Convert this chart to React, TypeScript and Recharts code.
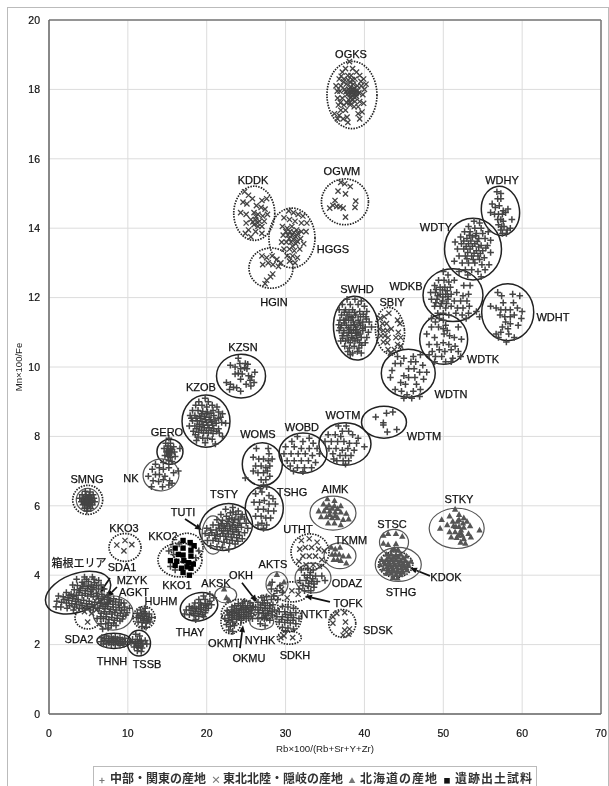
import React from 'react';
import {
  ScatterChart,
  Scatter,
  XAxis,
  YAxis,
  CartesianGrid,
  ReferenceLine,
  Legend,
} from 'recharts';

type Pt = number[];

const xTicks = [0, 10, 20, 30, 40, 50, 60, 70];
const yTicks = [0, 2, 4, 6, 8, 10, 12, 14, 16, 18, 20];

// 東北北陸・隠岐
const OGKS: Pt[] = [[38.1,18.8],[37.6,18.6],[38.5,18.6],[39.0,18.5],[37.2,18.5],[36.8,18.3],[37.4,18.3],[37.9,18.4],[38.3,18.4],[38.8,18.3],[39.4,18.4],[39.9,18.3],[40.2,18.15],[36.4,18.1],[37.0,18.1],[37.7,18.15],[38.2,18.2],[38.6,18.15],[39.1,18.1],[39.6,18.1],[40.0,18.0],[36.9,17.95],[37.5,18.0],[38.0,18.0],[38.4,18.0],[38.9,17.95],[39.3,17.9],[39.8,17.85],[37.8,17.85],[38.2,17.85],[38.6,17.85],[39.0,17.8],[36.6,17.75],[37.2,17.75],[38.0,17.7],[38.4,17.7],[38.8,17.65],[39.4,17.65],[39.9,17.6],[36.7,17.55],[37.4,17.55],[38.2,17.55],[38.7,17.5],[39.2,17.5],[37.0,17.4],[37.6,17.4],[36.2,17.3],[36.8,17.25],[37.8,17.2],[37.3,17.15],[39.2,17.3],[39.7,17.35],[39.4,17.15],[37.9,17.05],[36.6,17.15],[38.25,18.08],[38.7,18.03],[38.05,17.93],[38.5,17.92],[38.95,17.88],[37.65,17.93],[38.3,17.77],[38.75,17.77],[38.15,17.62],[39.15,17.97],[37.35,18.22],[37.05,18.38],[36.95,17.62],[39.55,18.23],[38.55,17.98],[38.35,17.93],[37.95,18.27],[38.45,18.28],[36.55,17.95],[37.75,17.62]];
const OGWM: Pt[] = [[37.0,15.32],[37.5,15.28],[38.2,15.2],[36.65,15.07],[37.6,14.99],[36.27,14.8],[38.9,14.78],[38.8,14.6],[36.0,14.66],[36.5,14.63],[36.9,14.62],[37.3,14.58],[35.6,14.58],[37.6,14.32]];
const KDDK: Pt[] = [[24.8,15.05],[25.3,14.95],[25.8,14.85],[24.6,14.75],[25.1,14.7],[27.0,14.8],[27.6,14.85],[26.3,14.65],[26.9,14.6],[27.4,14.55],[24.3,14.45],[25.0,14.4],[26.0,14.45],[26.5,14.4],[27.1,14.35],[27.7,14.4],[25.6,14.25],[26.2,14.25],[26.7,14.2],[27.3,14.2],[25.0,14.15],[26.0,14.1],[26.5,14.05],[27.0,14.05],[25.3,13.95],[26.2,13.9],[27.0,13.85],[25.6,13.75],[24.9,13.85],[26.25,14.33],[25.85,14.18],[26.45,14.15]];
const HGGS: Pt[] = [[30.4,14.5],[31.0,14.45],[31.6,14.4],[32.2,14.35],[29.8,14.3],[30.5,14.25],[31.2,14.2],[32.0,14.15],[32.7,14.15],[29.6,14.05],[30.2,14.0],[30.8,14.05],[31.4,13.95],[32.0,13.9],[32.6,13.9],[29.7,13.8],[30.3,13.8],[30.8,13.8],[31.3,13.75],[31.9,13.7],[29.5,13.6],[30.1,13.6],[30.7,13.6],[31.3,13.55],[32.3,13.55],[29.8,13.4],[30.5,13.4],[31.1,13.35],[31.8,13.4],[30.2,13.2],[30.9,13.2],[31.5,13.15],[30.5,13.05],[31.2,13.0],[30.55,13.9],[31.05,13.88],[31.55,13.85],[30.45,13.7],[31.0,13.68],[30.9,13.48],[31.5,13.62],[30.05,13.9]];
const HGIN: Pt[] = [[27.0,13.2],[27.6,13.15],[28.3,13.2],[28.9,13.1],[29.4,13.0],[27.1,12.95],[27.8,13.0],[28.4,12.95],[29.1,12.9],[28.37,12.68],[28.1,12.6],[27.6,12.5],[27.4,12.4]];
const SBIY: Pt[] = [[42.0,11.4],[42.5,11.45],[43.1,11.55],[42.3,11.25],[42.8,11.25],[44.2,11.35],[44.5,11.25],[41.9,11.1],[42.4,11.05],[42.9,11.05],[43.4,11.1],[44.3,11.0],[42.1,10.9],[42.6,10.9],[43.0,10.85],[44.0,10.85],[44.6,10.85],[42.4,10.72],[42.9,10.7],[44.2,10.65],[44.6,10.6],[43.0,10.5],[43.8,10.5],[43.3,10.4]];
const KKO3: Pt[] = [[8.6,4.87],[9.64,5.0],[10.5,4.88],[9.5,4.7]];
const SDA2: Pt[] = [[4.9,2.65],[4.5,2.95],[5.4,2.9],[6.0,3.0]];
const SDKH: Pt[] = [[29.4,2.2],[30.9,2.2],[29.8,2.25]];
const SDSK: Pt[] = [[36.0,2.8],[36.5,2.9],[37.5,2.92],[36.0,2.62],[37.6,2.65],[37.5,2.42],[38.1,2.45],[37.3,2.27],[38.0,2.3]];
const UTHT: Pt[] = [[32.0,5.0],[33.0,5.05],[34.0,4.95],[31.8,4.75],[32.5,4.8],[33.3,4.8],[34.2,4.75],[34.9,4.7],[32.2,4.55],[33.0,4.55],[33.8,4.55],[34.6,4.45],[31.7,4.4],[32.6,4.3],[33.5,4.3],[34.3,4.25]];
const TOFK: Pt[] = [[29.5,3.6],[30.8,3.55],[31.6,3.45],[30.2,3.35]];

// 中部・関東
const WDHY: Pt[] = [[56.8,15.05],[57.3,15.0],[56.9,14.85],[57.3,14.85],[56.2,14.7],[56.6,14.6],[57.1,14.65],[57.6,14.5],[58.2,14.55],[56.0,14.45],[56.5,14.4],[57.0,14.4],[57.5,14.4],[57.9,14.45],[56.9,14.25],[57.3,14.25],[57.6,14.2],[58.7,14.25],[57.0,14.1],[57.4,14.05],[57.7,14.05],[57.3,13.95],[58.1,13.95],[58.5,14.0],[58.0,13.85],[57.5,13.85]];
const WDTY: Pt[] = [[53.9,14.2],[54.6,14.15],[53.2,14.05],[54.0,14.0],[54.8,14.0],[52.7,13.9],[53.4,13.9],[54.2,13.85],[55.0,13.85],[55.7,13.9],[52.2,13.75],[53.0,13.7],[53.7,13.75],[54.5,13.7],[55.3,13.7],[56.0,13.65],[51.5,13.6],[52.3,13.55],[53.2,13.55],[54.0,13.55],[54.8,13.5],[55.6,13.5],[51.8,13.4],[52.6,13.4],[53.4,13.4],[54.2,13.35],[55.0,13.35],[56.0,13.3],[52.0,13.2],[52.8,13.2],[53.6,13.2],[54.4,13.2],[55.2,13.15],[51.4,13.05],[52.4,13.0],[53.2,13.0],[54.0,13.0],[54.9,12.95],[55.8,12.95],[52.8,12.8],[53.6,12.8],[54.4,12.75],[55.3,12.8],[52.0,12.75],[53.1,12.65],[54.8,12.6],[52.9,13.47],[53.7,13.48],[54.5,13.46],[53.1,13.3],[53.9,13.28],[54.7,13.27],[52.6,13.63],[53.5,13.63],[54.3,13.62],[53.0,13.12],[53.8,13.1],[54.6,13.1],[55.4,13.43],[53.3,13.8],[54.1,13.78]];
const WDKB: Pt[] = [[50.0,12.75],[50.6,12.65],[49.4,12.5],[50.1,12.5],[50.7,12.45],[51.4,12.5],[48.9,12.35],[49.6,12.3],[50.2,12.3],[50.9,12.3],[52.6,12.35],[53.4,12.35],[48.4,12.15],[49.0,12.15],[49.6,12.1],[50.3,12.1],[51.0,12.1],[51.7,12.15],[52.5,12.05],[53.2,12.1],[48.5,11.95],[49.2,11.95],[49.9,11.9],[50.6,11.95],[51.4,11.9],[52.2,11.9],[53.0,11.9],[48.9,11.75],[49.6,11.75],[50.3,11.7],[51.0,11.75],[51.8,11.7],[52.5,11.7],[53.3,11.75],[49.3,11.55],[50.0,11.55],[50.7,11.5],[51.6,11.55],[52.4,11.5],[53.2,11.55],[54.2,11.6],[54.6,11.45],[52.9,11.4],[48.5,11.4],[49.5,11.4],[49.1,12.23],[49.9,12.22],[50.5,12.2],[49.3,12.05],[49.95,12.02],[50.6,12.03],[49.05,11.85],[49.75,11.83],[50.4,11.83]];
const WDHT: Pt[] = [[56.9,12.15],[57.4,12.05],[58.8,12.1],[59.7,12.05],[58.9,11.85],[57.6,11.85],[56.0,11.75],[56.7,11.7],[57.3,11.65],[57.9,11.65],[58.5,11.65],[59.4,11.7],[60.0,11.6],[57.2,11.5],[57.8,11.45],[58.5,11.45],[59.0,11.5],[59.9,11.4],[57.9,11.3],[58.5,11.25],[59.5,11.2],[57.5,11.15],[58.2,11.1],[57.3,11.0],[56.7,10.95],[57.0,10.85],[58.3,10.95],[59.0,10.85],[58.0,10.72]];
const WDTK: Pt[] = [[49.0,11.3],[50.0,11.35],[50.3,11.2],[48.5,11.15],[49.4,11.15],[50.0,11.1],[50.5,11.05],[51.9,11.15],[47.9,10.95],[48.9,10.85],[50.1,10.95],[50.8,10.9],[51.4,10.85],[52.3,10.8],[48.2,10.65],[49.2,10.65],[50.0,10.7],[50.7,10.65],[51.5,10.6],[48.6,10.45],[49.5,10.5],[50.2,10.45],[51.0,10.5],[51.9,10.45],[48.2,10.35],[49.0,10.3],[49.8,10.3],[51.2,10.25],[52.2,10.3],[48.9,10.15],[50.3,10.15],[51.0,10.15]];
const WDTN: Pt[] = [[44.2,10.3],[45.0,10.25],[46.2,10.3],[47.1,10.35],[43.9,10.1],[44.6,10.1],[45.9,10.15],[46.5,10.15],[47.4,10.05],[43.5,9.9],[45.6,9.95],[46.3,9.95],[47.0,9.85],[47.9,9.85],[43.3,9.7],[45.0,9.75],[45.6,9.7],[46.4,9.7],[47.5,9.65],[44.6,9.55],[45.2,9.5],[46.6,9.5],[43.9,9.35],[44.7,9.3],[46.2,9.3],[47.1,9.35],[45.4,9.2],[46.0,9.1],[45.0,9.1],[47.0,9.15]];
const WDTM: Pt[] = [[41.43,8.56],[42.8,8.67],[43.6,8.7],[42.4,8.39],[42.4,8.33],[42.9,8.13],[44.1,8.2]];
const SWHD: Pt[] = [[37.8,11.95],[38.8,11.95],[39.6,11.9],[37.2,11.8],[38.2,11.8],[39.2,11.8],[40.0,11.75],[36.8,11.65],[37.6,11.65],[38.5,11.65],[39.4,11.6],[40.3,11.6],[37.1,11.5],[37.8,11.5],[38.3,11.45],[38.9,11.5],[39.5,11.45],[40.2,11.45],[36.9,11.35],[37.4,11.35],[38.0,11.35],[38.6,11.3],[39.2,11.35],[39.8,11.3],[40.6,11.3],[37.1,11.2],[37.7,11.2],[38.3,11.2],[38.9,11.15],[39.5,11.2],[40.1,11.15],[40.9,11.15],[36.8,11.05],[37.4,11.05],[38.0,11.0],[38.6,11.05],[39.2,11.0],[39.8,11.05],[40.5,11.0],[37.2,10.9],[37.8,10.9],[38.4,10.85],[39.0,10.9],[39.6,10.85],[40.3,10.85],[37.0,10.75],[37.6,10.75],[38.2,10.7],[38.8,10.75],[39.4,10.7],[40.1,10.7],[37.5,10.6],[38.1,10.55],[38.7,10.6],[39.3,10.55],[37.9,10.45],[38.5,10.4],[39.1,10.45],[38.2,10.35],[39.6,10.4],[37.45,11.27],[37.95,11.13],[38.45,11.42],[38.15,11.08],[38.75,11.22],[39.05,11.08],[39.35,11.27],[37.65,11.38],[36.95,11.13],[37.35,10.98],[38.35,10.97],[38.85,10.98],[39.45,10.95],[37.95,10.78],[38.55,10.83],[39.15,10.78],[39.75,11.12],[40.25,11.38],[37.45,11.58],[38.05,11.58],[38.75,11.57],[39.85,11.52],[36.75,11.22],[37.25,10.83],[39.65,10.63]];
const WOTM: Pt[] = [[36.7,8.3],[37.7,8.3],[37.2,8.15],[38.0,8.15],[35.4,8.05],[36.3,8.05],[37.0,8.0],[38.5,8.05],[39.2,7.95],[35.0,7.85],[35.8,7.85],[36.6,7.85],[37.4,7.85],[38.1,7.8],[39.0,7.8],[35.5,7.65],[36.4,7.65],[37.2,7.6],[37.9,7.65],[38.7,7.6],[40.0,7.7],[36.0,7.5],[36.9,7.45],[37.6,7.45],[38.3,7.45],[36.5,7.3],[37.3,7.3],[38.0,7.3],[37.6,7.2],[36.1,7.35]];
const WOBD: Pt[] = [[31.5,8.0],[33.0,7.95],[30.8,7.85],[32.2,7.85],[33.5,7.8],[30.0,7.7],[31.1,7.7],[32.0,7.65],[33.0,7.65],[34.0,7.65],[29.8,7.5],[30.7,7.5],[31.6,7.5],[32.5,7.5],[33.4,7.45],[34.3,7.5],[30.2,7.3],[31.1,7.3],[32.0,7.3],[32.9,7.3],[33.8,7.25],[30.6,7.15],[31.5,7.1],[32.4,7.1],[33.3,7.1],[31.0,7.0],[32.2,6.98]];
const WOMS: Pt[] = [[26.3,7.65],[27.8,7.65],[27.9,7.5],[25.9,7.4],[26.6,7.35],[27.2,7.35],[27.8,7.3],[28.3,7.35],[26.2,7.15],[26.9,7.15],[27.5,7.1],[28.0,7.15],[25.9,7.0],[26.5,6.95],[27.2,6.95],[27.7,7.0],[24.9,6.8],[26.9,6.75],[27.5,6.75],[28.0,6.85],[27.2,6.6],[27.6,6.55],[26.8,6.5]];
const TSHG: Pt[] = [[26.2,6.35],[27.0,6.4],[27.9,6.3],[28.4,6.2],[26.0,6.1],[26.7,6.1],[27.3,6.15],[27.9,6.05],[28.7,6.05],[26.5,5.9],[27.2,5.9],[27.8,5.85],[28.5,5.85],[26.2,5.7],[26.9,5.7],[27.5,5.65],[28.1,5.65],[27.0,5.5],[27.6,5.45],[26.5,5.45],[27.2,5.35]];
const KZSN: Pt[] = [[24.0,10.25],[24.2,10.1],[24.9,10.1],[25.2,10.08],[23.0,10.05],[23.6,10.0],[24.3,9.95],[24.8,9.98],[25.1,9.95],[26.1,9.85],[24.0,9.82],[24.5,9.8],[23.6,9.8],[25.3,9.75],[25.7,9.72],[24.3,9.65],[25.5,9.62],[26.0,9.55],[22.5,9.55],[23.0,9.5],[23.4,9.42],[22.9,9.35],[24.3,9.3],[25.0,9.5],[25.6,9.45],[23.8,9.4]];
const KZOB: Pt[] = [[19.8,9.1],[19.0,9.0],[20.2,9.0],[18.6,8.9],[19.4,8.9],[20.0,8.85],[20.7,8.9],[21.3,8.85],[18.2,8.75],[18.9,8.75],[19.5,8.72],[20.1,8.7],[20.8,8.75],[21.5,8.7],[22.0,8.65],[17.9,8.6],[18.5,8.6],[19.1,8.58],[19.7,8.58],[20.3,8.55],[20.9,8.6],[21.5,8.52],[18.2,8.45],[18.8,8.45],[19.4,8.42],[20.0,8.4],[20.6,8.42],[21.2,8.38],[21.9,8.4],[22.4,8.38],[17.8,8.3],[18.5,8.3],[19.1,8.28],[19.7,8.25],[20.3,8.25],[20.9,8.22],[21.5,8.22],[18.3,8.15],[19.0,8.12],[19.6,8.1],[20.2,8.1],[20.8,8.08],[21.6,8.1],[18.9,7.98],[19.5,7.95],[20.1,7.95],[20.7,7.92],[22.0,8.0],[19.8,7.82],[21.1,7.78],[18.7,7.88],[19.25,8.52],[19.85,8.48],[20.45,8.48],[19.05,8.35],[19.55,8.33],[20.15,8.32],[20.75,8.32],[19.35,8.65],[19.95,8.65],[20.55,8.67],[18.65,8.52],[21.05,8.47],[18.75,8.22],[19.35,8.18],[19.95,8.17],[20.55,8.17],[21.25,8.15],[18.05,8.52],[21.75,8.55],[18.55,8.05]];
const GERO: Pt[] = [[15.2,7.95],[14.8,7.8],[15.4,7.8],[14.6,7.65],[15.0,7.65],[15.4,7.65],[15.8,7.7],[16.6,7.65],[14.9,7.55],[15.2,7.55],[15.5,7.52],[15.9,7.55],[14.7,7.45],[15.1,7.42],[15.4,7.4],[16.0,7.42],[15.2,7.3],[15.6,7.28],[15.1,7.72],[15.05,7.58],[15.35,7.58],[15.25,7.48],[15.6,7.62]];
const NK: Pt[] = [[13.5,7.2],[14.5,7.25],[13.1,7.05],[14.0,7.1],[14.5,7.05],[15.2,7.1],[15.8,6.95],[16.4,7.0],[13.5,6.9],[14.0,6.9],[14.7,6.85],[12.6,6.85],[13.2,6.72],[13.9,6.7],[14.5,6.75],[15.2,6.6],[15.6,6.65],[13.0,6.55],[14.4,6.55],[15.3,6.72]];
const SMNG: Pt[] = [[4.6,6.42],[5.2,6.4],[4.2,6.32],[4.7,6.32],[5.1,6.3],[5.6,6.32],[3.9,6.22],[4.4,6.22],[4.8,6.22],[5.2,6.2],[5.7,6.22],[4.1,6.12],[4.5,6.12],[4.9,6.12],[5.3,6.1],[5.8,6.12],[4.3,6.03],[4.7,6.03],[5.1,6.0],[5.5,6.02],[4.5,5.93],[4.9,5.92],[5.3,5.92],[4.8,5.85],[4.9,6.17],[5.0,6.05],[4.6,6.17],[4.65,6.27],[5.0,6.25],[5.4,6.25],[4.35,6.17],[4.75,6.15],[5.1,6.15],[5.5,6.15],[4.55,6.07],[4.9,6.05],[5.25,6.05]];
const TSTY: Pt[] = [[23.3,5.95],[22.4,5.9],[24.0,5.85],[23.0,5.8],[23.7,5.75],[24.5,5.75],[21.8,5.75],[22.5,5.7],[23.2,5.65],[24.0,5.62],[24.8,5.62],[21.3,5.6],[22.0,5.58],[22.7,5.55],[23.4,5.52],[24.2,5.5],[25.0,5.5],[20.8,5.45],[21.5,5.45],[22.2,5.42],[22.9,5.42],[23.6,5.38],[24.4,5.38],[25.2,5.35],[20.5,5.3],[21.2,5.3],[21.9,5.28],[22.6,5.28],[23.3,5.25],[24.0,5.25],[24.8,5.22],[20.3,5.15],[21.0,5.15],[21.7,5.12],[22.4,5.12],[23.1,5.1],[23.8,5.08],[24.5,5.05],[20.1,5.0],[20.8,5.0],[21.5,4.98],[22.2,4.95],[22.9,4.92],[23.6,4.9],[20.5,4.85],[21.3,4.82],[22.0,4.8],[22.8,4.75],[19.8,5.2],[20.0,5.35],[21.65,5.35],[22.35,5.35],[23.05,5.33],[23.75,5.31],[21.85,5.48],[22.55,5.48],[23.25,5.45],[23.95,5.44],[22.05,5.2],[22.75,5.19],[23.45,5.17],[24.15,5.15],[22.85,5.62],[23.55,5.6],[24.35,5.68],[23.35,5.82],[21.35,5.18],[20.65,5.22],[21.15,5.05],[22.55,5.03],[23.25,5.0],[23.95,4.98]];
const THAY: Pt[] = [[20.4,3.45],[19.6,3.4],[20.9,3.35],[19.0,3.3],[19.8,3.3],[20.4,3.25],[18.5,3.2],[19.2,3.2],[19.8,3.18],[20.6,3.15],[17.8,3.1],[18.4,3.08],[19.0,3.08],[19.6,3.06],[20.2,3.05],[17.4,3.0],[18.0,2.98],[18.6,2.96],[19.2,2.95],[19.8,2.92],[17.8,2.86],[18.4,2.84],[19.0,2.82],[19.6,2.8],[18.6,2.72],[17.2,2.88],[19.3,3.14],[19.95,3.12],[18.7,3.03],[19.3,3.01],[19.9,2.99],[18.15,3.05],[18.3,2.9],[18.9,2.89],[19.45,2.86],[20.15,3.18]];
const HAKONE: Pt[] = [[4.5,3.95],[5.5,3.95],[6.3,3.85],[3.5,3.88],[4.2,3.8],[5.0,3.82],[5.8,3.78],[6.6,3.72],[3.0,3.72],[3.6,3.7],[4.3,3.68],[5.0,3.68],[5.6,3.65],[6.3,3.6],[7.0,3.6],[3.2,3.58],[3.9,3.56],[4.6,3.55],[5.3,3.52],[6.0,3.48],[6.7,3.45],[7.4,3.42],[2.2,3.5],[2.8,3.45],[3.5,3.42],[4.2,3.42],[4.9,3.4],[5.6,3.38],[6.3,3.32],[7.0,3.3],[7.7,3.28],[1.2,3.4],[1.8,3.38],[2.4,3.35],[3.0,3.33],[3.7,3.3],[4.4,3.28],[5.1,3.25],[5.8,3.22],[6.5,3.2],[7.2,3.15],[1.0,3.25],[1.6,3.22],[2.2,3.2],[2.9,3.18],[3.5,3.15],[4.2,3.12],[4.9,3.1],[5.6,3.08],[6.2,3.05],[0.9,3.09],[1.5,3.08],[2.3,3.05],[3.1,3.0],[2.5,3.27],[3.35,3.25],[4.05,3.2],[4.75,3.18],[5.45,3.15],[1.9,3.3],[2.6,3.12],[3.25,3.08],[3.85,3.05],[4.55,3.03],[5.25,3.0],[4.0,3.62],[4.85,3.62],[5.45,3.58],[4.45,3.75],[5.35,3.72],[6.05,3.7],[4.75,3.88],[5.7,3.88],[3.8,3.5],[4.6,3.47],[5.35,3.45],[6.1,3.4],[6.85,3.37],[2.55,3.42],[3.15,3.39],[7.5,3.22],[6.85,3.1]];
const AGKT: Pt[] = [[7.5,3.35],[8.2,3.32],[8.9,3.3],[9.5,3.2],[6.7,3.2],[7.4,3.18],[8.1,3.16],[8.8,3.14],[9.6,3.08],[10.2,3.05],[6.4,3.05],[7.1,3.03],[7.8,3.02],[8.5,3.0],[9.2,2.98],[9.9,2.92],[6.6,2.9],[7.3,2.88],[8.0,2.88],[8.7,2.84],[9.4,2.82],[6.1,2.75],[6.9,2.75],[7.6,2.72],[8.3,2.7],[9.0,2.68],[6.6,2.6],[7.2,2.6],[7.9,2.55],[7.5,2.48],[6.8,2.45],[8.5,2.55],[7.75,3.25],[8.45,3.23],[9.15,3.2],[7.45,3.1],[8.15,3.08],[8.95,3.06],[9.55,3.0],[7.0,2.95],[7.65,2.95],[8.35,2.93],[9.05,2.9],[9.75,2.85],[6.55,2.8],[7.25,2.8],[7.95,2.78],[8.65,2.76],[9.3,2.74],[7.5,2.62],[8.2,2.62]];
const HUHM: Pt[] = [[11.6,3.0],[12.2,3.05],[11.2,2.9],[11.7,2.88],[12.2,2.9],[12.7,2.88],[11.1,2.78],[11.6,2.76],[12.1,2.76],[12.6,2.74],[13.0,2.78],[11.3,2.65],[11.8,2.64],[12.3,2.62],[12.8,2.65],[11.8,2.52],[12.3,2.5],[11.9,2.82],[12.4,2.82],[11.4,2.83],[12.0,2.7],[12.5,2.68],[12.05,2.95]];
const THNH: Pt[] = [[6.7,2.2],[7.3,2.25],[7.9,2.22],[8.4,2.22],[9.0,2.2],[9.6,2.18],[6.6,2.08],[7.1,2.12],[7.6,2.1],[8.1,2.12],[8.6,2.1],[9.1,2.08],[9.7,2.08],[10.2,2.08],[7.3,2.02],[7.9,2.0],[8.4,2.0],[9.0,1.98],[9.5,2.0],[7.0,2.17],[7.55,2.17],[8.15,2.17],[8.7,2.16],[9.3,2.14],[6.9,2.02],[7.6,2.05],[8.2,2.05],[8.8,2.04],[9.35,2.04]];
const TSSB: Pt[] = [[11.0,2.3],[11.5,2.25],[10.6,2.15],[11.2,2.15],[11.7,2.12],[12.2,2.12],[10.4,2.05],[10.9,2.03],[11.4,2.03],[11.9,2.02],[12.4,2.02],[10.8,1.93],[11.3,1.92],[11.8,1.9],[11.2,1.82],[11.7,1.8],[11.0,2.08],[11.6,2.08],[11.15,1.97],[11.65,1.96]];
const OKMU: Pt[] = [[24.8,3.25],[25.5,3.2],[24.0,3.18],[24.6,3.12],[25.2,3.12],[25.9,3.1],[23.2,3.08],[23.8,3.04],[24.4,3.02],[25.0,3.02],[25.7,3.0],[22.6,2.98],[23.2,2.95],[23.8,2.93],[24.4,2.92],[25.0,2.92],[25.6,2.9],[22.9,2.85],[23.5,2.83],[24.1,2.82],[24.7,2.8],[25.3,2.8],[23.2,2.73],[23.8,2.72],[24.4,2.7],[24.3,3.12],[24.9,3.07],[25.5,3.06],[23.5,3.0],[24.1,2.98],[24.7,2.97],[25.3,2.96],[22.9,2.92],[23.5,2.89],[24.1,2.87],[24.7,2.86],[25.3,2.85],[23.2,2.79],[23.8,2.77],[24.4,2.76],[25.0,2.75],[24.55,3.2],[23.55,3.12],[22.7,2.85]];
const OKMT: Pt[] = [[22.3,2.75],[22.8,2.7],[23.3,2.65],[22.5,2.58],[23.0,2.52],[23.5,2.55],[22.8,2.42],[23.3,2.38]];
const OKH: Pt[] = [[27.0,3.35],[27.6,3.38],[28.2,3.3],[26.5,3.22],[27.1,3.2],[27.7,3.2],[28.4,3.15],[26.2,3.08],[26.8,3.06],[27.4,3.05],[28.0,3.05],[28.6,3.0],[26.6,2.92],[27.2,2.9],[27.8,2.9],[28.3,2.85],[27.0,2.78],[27.6,2.76],[27.3,3.28],[26.85,3.14],[27.4,3.13],[28.0,3.12],[26.5,3.0],[27.1,2.98],[27.7,2.98],[28.3,2.95],[27.45,2.84]];
const NYHK: Pt[] = [[25.8,2.75],[26.5,2.75],[27.3,2.75],[28.0,2.7],[26.8,2.6],[27.4,2.55]];
const NTKT: Pt[] = [[29.6,3.1],[30.3,3.08],[31.0,3.05],[29.2,2.95],[29.9,2.95],[30.6,2.92],[31.3,2.92],[28.9,2.8],[29.6,2.8],[30.3,2.78],[31.0,2.78],[31.7,2.75],[29.2,2.65],[29.9,2.64],[30.6,2.62],[31.3,2.6],[29.6,2.5],[30.3,2.48],[31.0,2.45],[30.0,2.4],[30.0,2.87],[30.7,2.85],[29.5,2.72],[30.25,2.7],[30.95,2.7]];
const ODAZ: Pt[] = [[32.0,4.15],[32.8,4.2],[33.5,4.15],[32.4,4.0],[33.1,4.0],[33.8,3.98],[34.6,3.98],[31.8,3.85],[32.6,3.85],[33.3,3.82],[34.0,3.82],[35.0,3.85],[32.2,3.7],[32.9,3.68],[33.6,3.65],[31.7,3.6],[32.4,3.55],[33.2,3.55],[32.75,3.93],[33.45,3.9],[32.95,3.77],[33.6,3.75],[33.15,4.08]];
const AKTS: Pt[] = [[28.3,3.8],[29.3,3.7],[28.2,3.6],[28.9,3.55],[29.6,3.5],[29.0,3.3],[28.5,3.4]];
const KKO: Pt[] = [[15.2,4.7],[15.8,4.6],[15.4,4.25],[16.0,4.15],[18.6,4.5],[19.0,4.7],[18.2,4.85],[16.5,4.9]];

// 北海道
const AKSK: Pt[] = [[22.2,3.6],[22.5,3.35],[22.8,3.28]];
const AKTST: Pt[] = [[28.9,4.02],[28.0,3.75],[29.8,3.8]];
const TKMM: Pt[] = [[35.8,4.8],[36.3,4.75],[36.9,4.8],[35.9,4.6],[36.3,4.6],[36.8,4.6],[37.3,4.55],[38.0,4.55],[36.1,4.45],[36.6,4.45],[37.0,4.42],[37.7,4.35]];
const AIMK: Pt[] = [[35.3,6.2],[36.2,6.15],[34.8,6.05],[35.5,6.02],[36.2,6.0],[37.0,6.0],[34.2,5.85],[34.9,5.85],[35.6,5.85],[36.3,5.82],[37.0,5.82],[37.7,5.78],[34.5,5.68],[35.2,5.68],[35.9,5.65],[36.6,5.65],[37.3,5.6],[38.0,5.62],[35.4,5.5],[36.2,5.5],[37.0,5.45],[35.2,5.95],[35.9,5.93],[36.6,5.92],[35.6,5.75],[36.3,5.72]];
const STSC: Pt[] = [[42.4,5.15],[43.0,5.2],[44.0,5.2],[44.8,5.12],[42.4,4.92],[43.0,4.88],[44.0,4.9],[43.5,4.72],[44.2,4.72]];
const STHG: Pt[] = [[43.8,4.75],[44.3,4.72],[42.8,4.6],[43.4,4.6],[44.0,4.58],[44.6,4.6],[45.3,4.55],[42.2,4.45],[42.8,4.45],[43.4,4.45],[44.0,4.45],[44.6,4.42],[45.2,4.42],[45.9,4.4],[42.0,4.3],[42.6,4.32],[43.2,4.3],[43.8,4.3],[44.4,4.3],[45.0,4.28],[45.6,4.28],[42.4,4.18],[43.0,4.18],[43.6,4.18],[44.2,4.15],[44.8,4.15],[45.4,4.15],[42.8,4.05],[43.4,4.05],[44.0,4.02],[44.6,4.02],[43.6,3.93],[44.2,3.92],[43.1,4.52],[43.7,4.52],[44.3,4.52],[44.9,4.5],[42.5,4.38],[43.1,4.38],[43.7,4.38],[44.3,4.37],[44.9,4.35],[45.5,4.35],[42.9,4.25],[43.5,4.24],[44.1,4.23],[44.7,4.22],[45.3,4.22],[43.1,4.11],[43.7,4.11],[44.3,4.09],[44.9,4.08]];
const STKY: Pt[] = [[51.5,5.9],[50.8,5.7],[52.0,5.75],[52.6,5.65],[49.8,5.6],[51.2,5.55],[51.8,5.55],[52.5,5.5],[53.0,5.55],[50.5,5.45],[51.3,5.42],[52.0,5.4],[52.6,5.38],[53.4,5.42],[54.6,5.3],[49.6,5.35],[50.8,5.25],[51.5,5.25],[52.2,5.22],[53.2,5.2],[51.0,5.1],[51.7,5.08],[52.6,5.05],[53.5,5.1],[52.2,4.95],[52.8,4.92],[51.6,5.4],[52.25,5.3],[51.9,5.15],[52.4,5.15],[52.0,5.6]];

// 遺跡出土試料
const siteSamples: Pt[] = [[16.0,4.78],[17.0,5.0],[17.9,4.94],[18.4,4.85],[17.0,4.78],[18.0,4.72],[16.4,4.6],[17.0,4.58],[18.0,4.55],[15.4,4.42],[16.2,4.4],[17.1,4.42],[17.7,4.36],[18.3,4.32],[16.0,4.28],[16.8,4.2],[17.5,4.24],[18.0,4.2],[17.0,4.08],[17.8,4.0]];

const seriesNames = ['中部・関東の産地', '東北北陸・隠岐の産地', '北海道の産地', '遺跡出土試料'];

const toRows = (groups: Pt[][]) => groups.flat().map(([x, y]) => ({ x, y }));
const chubuRows = toRows([WDHY, WDTY, WDKB, WDHT, WDTK, WDTN, WDTM, SWHD, WOTM, WOBD, WOMS, TSHG, KZSN, KZOB, GERO, NK, SMNG, TSTY, THAY, HAKONE, AGKT, HUHM, THNH, TSSB, OKMU, OKMT, OKH, NYHK, NTKT, ODAZ, AKTS, KKO]);
const tohokuRows = toRows([OGKS, OGWM, KDDK, HGGS, HGIN, SBIY, KKO3, SDA2, SDKH, SDSK, UTHT, TOFK]);
const hokkaidoRows = toRows([AKSK, AKTST, TKMM, AIMK, STSC, STHG, STKY]);
const siteRows = toRows([siteSamples]);

// x, y, radii in axis units, tilt in degrees, line kind
const rings: any[] = [
  { x: 38.42, y: 17.84, rx: 3.17, ry: 0.97, tilt: 0, line: 'dot' },
  { x: 37.53, y: 14.76, rx: 2.98, ry: 0.66, tilt: 0, line: 'dot' },
  { x: 26.03, y: 14.43, rx: 2.6, ry: 0.78, tilt: 0, line: 'dot' },
  { x: 30.81, y: 13.72, rx: 2.92, ry: 0.86, tilt: 0, line: 'dot' },
  { x: 28.15, y: 12.85, rx: 2.79, ry: 0.58, tilt: 0, line: 'dot' },
  { x: 57.25, y: 14.5, rx: 2.41, ry: 0.71, tilt: -8, line: 'solid' },
  { x: 53.77, y: 13.4, rx: 3.61, ry: 0.89, tilt: 0, line: 'solid' },
  { x: 51.23, y: 12.07, rx: 3.8, ry: 0.76, tilt: 0, line: 'solid' },
  { x: 58.17, y: 11.58, rx: 3.3, ry: 0.82, tilt: 0, line: 'solid' },
  { x: 50.05, y: 10.8, rx: 3.04, ry: 0.72, tilt: 0, line: 'solid' },
  { x: 45.56, y: 9.82, rx: 3.42, ry: 0.69, tilt: 0, line: 'solid' },
  { x: 38.93, y: 11.12, rx: 2.85, ry: 0.92, tilt: -5, line: 'solid' },
  { x: 43.24, y: 11.04, rx: 1.84, ry: 0.68, tilt: -5, line: 'dot' },
  { x: 42.48, y: 8.41, rx: 2.85, ry: 0.46, tilt: 0, line: 'solid' },
  { x: 37.53, y: 7.78, rx: 3.3, ry: 0.61, tilt: 0, line: 'solid' },
  { x: 32.21, y: 7.52, rx: 3.04, ry: 0.58, tilt: 0, line: 'solid' },
  { x: 27.05, y: 7.2, rx: 2.54, ry: 0.62, tilt: 0, line: 'solid' },
  { x: 27.3, y: 5.93, rx: 2.41, ry: 0.63, tilt: 0, line: 'solid' },
  { x: 24.35, y: 9.74, rx: 3.11, ry: 0.63, tilt: 0, line: 'solid' },
  { x: 19.91, y: 8.44, rx: 3.04, ry: 0.75, tilt: 0, line: 'solid' },
  { x: 15.34, y: 7.56, rx: 1.65, ry: 0.36, tilt: 0, line: 'solid' },
  { x: 14.2, y: 6.89, rx: 2.28, ry: 0.46, tilt: -8, line: 'thin' },
  { x: 4.91, y: 6.17, rx: 1.9, ry: 0.42, tilt: 0, line: 'dot' },
  { x: 4.91, y: 6.17, rx: 1.45, ry: 0.33, tilt: 0, line: 'thin' },
  { x: 22.44, y: 5.39, rx: 3.42, ry: 0.66, tilt: -20, line: 'solid' },
  { x: 20.8, y: 5.16, rx: 1.39, ry: 0.55, tilt: 0, line: 'thin' },
  { x: 9.64, y: 4.8, rx: 2.03, ry: 0.4, tilt: 0, line: 'dot' },
  { x: 17.5, y: 4.78, rx: 2.03, ry: 0.43, tilt: 0, line: 'dot' },
  { x: 16.61, y: 4.44, rx: 2.79, ry: 0.49, tilt: 0, line: 'dot' },
  { x: 3.68, y: 3.5, rx: 4.31, ry: 0.55, tilt: -20, line: 'solid' },
  { x: 4.82, y: 3.43, rx: 1.39, ry: 0.26, tilt: 0, line: 'thin' },
  { x: 8.12, y: 2.91, rx: 2.54, ry: 0.49, tilt: 0, line: 'thin' },
  { x: 4.95, y: 2.77, rx: 1.65, ry: 0.32, tilt: 0, line: 'dot' },
  { x: 12.05, y: 2.78, rx: 1.39, ry: 0.32, tilt: 0, line: 'dot' },
  { x: 8.24, y: 2.11, rx: 2.16, ry: 0.22, tilt: 0, line: 'solid' },
  { x: 11.41, y: 2.04, rx: 1.46, ry: 0.37, tilt: 0, line: 'solid' },
  { x: 19.02, y: 3.09, rx: 2.41, ry: 0.4, tilt: -15, line: 'solid' },
  { x: 22.41, y: 3.43, rx: 1.39, ry: 0.23, tilt: 0, line: 'thin' },
  { x: 27.39, y: 3.07, rx: 1.65, ry: 0.35, tilt: 0, line: 'dot' },
  { x: 24.0, y: 2.95, rx: 2.16, ry: 0.35, tilt: -10, line: 'dot' },
  { x: 23.08, y: 2.66, rx: 1.27, ry: 0.35, tilt: 0, line: 'dot' },
  { x: 26.97, y: 2.66, rx: 1.52, ry: 0.23, tilt: 0, line: 'thin' },
  { x: 30.35, y: 2.76, rx: 1.65, ry: 0.4, tilt: 0, line: 'dot' },
  { x: 30.47, y: 2.2, rx: 1.52, ry: 0.19, tilt: 0, line: 'dot' },
  { x: 28.91, y: 3.75, rx: 1.39, ry: 0.35, tilt: 0, line: 'thin' },
  { x: 30.78, y: 3.52, rx: 2.16, ry: 0.29, tilt: 0, line: 'dot' },
  { x: 33.48, y: 3.92, rx: 2.28, ry: 0.43, tilt: 0, line: 'thin' },
  { x: 33.1, y: 4.67, rx: 2.41, ry: 0.52, tilt: 0, line: 'dot' },
  { x: 36.9, y: 4.56, rx: 2.03, ry: 0.37, tilt: 0, line: 'thin' },
  { x: 36.01, y: 5.79, rx: 2.92, ry: 0.49, tilt: 0, line: 'thin' },
  { x: 43.75, y: 4.95, rx: 1.84, ry: 0.37, tilt: 0, line: 'thin' },
  { x: 44.29, y: 4.31, rx: 2.92, ry: 0.49, tilt: 0, line: 'thin' },
  { x: 43.96, y: 4.31, rx: 2.16, ry: 0.37, tilt: 0, line: 'dot' },
  { x: 51.7, y: 5.35, rx: 3.49, ry: 0.58, tilt: 0, line: 'thin' },
  { x: 37.19, y: 2.61, rx: 1.71, ry: 0.4, tilt: 0, line: 'dot' },
];

const areaLabels = [
  { text: 'OGKS', x: 38.3, y: 19.02 }, { text: 'OGWM', x: 37.15, y: 15.65 }, { text: 'KDDK', x: 25.87, y: 15.39 },
  { text: 'HGGS', x: 36.01, y: 13.4 }, { text: 'HGIN', x: 28.53, y: 11.87 }, { text: 'WDHY', x: 57.45, y: 15.39 },
  { text: 'WDTY', x: 49.07, y: 14.03 }, { text: 'WDKB', x: 45.27, y: 12.33 }, { text: 'SWHD', x: 39.06, y: 12.25 },
  { text: 'SBIY', x: 43.5, y: 11.87 }, { text: 'WDHT', x: 63.91, y: 11.44 }, { text: 'WDTK', x: 55.03, y: 10.23 },
  { text: 'WDTN', x: 50.98, y: 9.22 }, { text: 'WDTM', x: 47.55, y: 8.01 }, { text: 'WOTM', x: 37.28, y: 8.62 },
  { text: 'WOBD', x: 32.08, y: 8.27 }, { text: 'AIMK', x: 36.27, y: 6.48 }, { text: 'STKY', x: 51.99, y: 6.2 },
  { text: 'KZSN', x: 24.6, y: 10.58 }, { text: 'KZOB', x: 19.27, y: 9.42 }, { text: 'GERO', x: 14.96, y: 8.13 },
  { text: 'WOMS', x: 26.5, y: 8.07 }, { text: 'SMNG', x: 4.82, y: 6.77 }, { text: 'NK', x: 10.4, y: 6.8 },
  { text: 'TSTY', x: 22.19, y: 6.34 }, { text: 'TSHG', x: 30.81, y: 6.4 }, { text: 'TUTI', x: 16.99, y: 5.82 },
  { text: 'KKO3', x: 9.51, y: 5.36 }, { text: 'KKO2', x: 14.46, y: 5.13 }, { text: 'UTHT', x: 31.57, y: 5.33 },
  { text: '箱根エリア', x: 3.8, y: 4.38 }, { text: 'SDA1', x: 9.26, y: 4.24 }, { text: 'MZYK', x: 10.52, y: 3.85 },
  { text: 'AGKT', x: 10.78, y: 3.52 }, { text: 'HUHM', x: 14.2, y: 3.26 }, { text: 'KKO1', x: 16.23, y: 3.72 },
  { text: 'AKSK', x: 21.18, y: 3.78 }, { text: 'OKH', x: 24.35, y: 4.0 }, { text: 'AKTS', x: 28.4, y: 4.32 },
  { text: 'THAY', x: 17.88, y: 2.36 }, { text: 'SDA2', x: 3.8, y: 2.16 }, { text: 'THNH', x: 7.99, y: 1.53 },
  { text: 'TSSB', x: 12.43, y: 1.44 }, { text: 'OKMT', x: 22.19, y: 2.05 }, { text: 'NYHK', x: 26.76, y: 2.13 },
  { text: 'OKMU', x: 25.36, y: 1.61 }, { text: 'SDKH', x: 31.19, y: 1.7 }, { text: 'NTKT', x: 33.73, y: 2.88 },
  { text: 'TOFK', x: 37.92, y: 3.2 }, { text: 'ODAZ', x: 37.79, y: 3.78 }, { text: 'TKMM', x: 38.3, y: 5.01 },
  { text: 'STSC', x: 43.5, y: 5.48 }, { text: 'STHG', x: 44.64, y: 3.52 }, { text: 'KDOK', x: 50.34, y: 3.95 },
  { text: 'SDSK', x: 41.72, y: 2.42 },
];

// from x, from y, to x, to y
const arrows = [
  [17.25, 5.62, 19.4, 5.3],
  [7.74, 3.92, 6.47, 3.49],
  [8.62, 3.66, 7.35, 3.37],
  [24.47, 3.78, 26.38, 3.23],
  [24.22, 1.9, 24.6, 2.56],
  [48.31, 3.98, 45.78, 4.21],
  [35.63, 3.23, 32.46, 3.4],
];

const WIDTH = 609;
const HEIGHT = 786;
const PLOT_LEFT = 49;
const PLOT_RIGHT = 601;
const PLOT_TOP = 20;
const PLOT_BOTTOM = 714;
const pxPerX = (PLOT_RIGHT - PLOT_LEFT) / 70;
const pxPerY = (PLOT_BOTTOM - PLOT_TOP) / 20;

const MARK = '#444';
const FONT = '"Liberation Sans", Arial, sans-serif';

const PlusMark = ({ cx, cy }: any) => (
  <path d={`M${cx - 3.3} ${cy}H${cx + 3.3}M${cx} ${cy - 3.3}V${cy + 3.3}`} stroke={MARK} strokeWidth={1.5} fill="none" />
);
const CrossMark = ({ cx, cy }: any) => (
  <path d={`M${cx - 2.6} ${cy - 2.6}L${cx + 2.6} ${cy + 2.6}M${cx - 2.6} ${cy + 2.6}L${cx + 2.6} ${cy - 2.6}`} stroke={MARK} strokeWidth={1.3} fill="none" />
);
const TriangleMark = ({ cx, cy }: any) => (
  <path d={`M${cx} ${cy - 3.4}L${cx + 3.2} ${cy + 2.4}H${cx - 3.2}Z`} fill="#555" />
);
const SquareMark = ({ cx, cy }: any) => <rect x={cx - 2.7} y={cy - 2.7} width={5.4} height={5.4} fill="#000" />;

const Ring = ({ cx, cy, payload }: any) => {
  const dotted = payload.line === 'dot';
  return (
    <ellipse
      cx={cx}
      cy={cy}
      rx={payload.rx * pxPerX}
      ry={payload.ry * pxPerY}
      transform={`rotate(${payload.tilt} ${cx} ${cy})`}
      fill="none"
      stroke={payload.line === 'thin' ? '#555' : '#222'}
      strokeWidth={dotted ? 1.7 : payload.line === 'thin' ? 1.2 : 1.5}
      strokeDasharray={dotted ? '1.5 1.2' : undefined}
    />
  );
};

const AreaLabel = ({ cx, cy, payload }: any) => (
  <text x={cx} y={cy} textAnchor="middle" dominantBaseline="central" fontFamily={payload.text === '箱根エリア' ? '"Noto Sans CJK JP"' : FONT} fontSize={11} fill="#111" stroke="#111" strokeWidth={0.25}>
    {payload.text}
  </text>
);

const Arrow = ({ x1, y1, x2, y2 }: any) => {
  const a = Math.atan2(y2 - y1, x2 - x1);
  const hx = x2 - Math.cos(a) * 7;
  const hy = y2 - Math.sin(a) * 7;
  const nx = -Math.sin(a) * 3;
  const ny = Math.cos(a) * 3;
  return (
    <g>
      <line x1={x1} y1={y1} x2={hx} y2={hy} stroke="#111" strokeWidth={1.7} />
      <path d={`M${x2} ${y2}L${hx + nx} ${hy + ny}L${hx - nx} ${hy - ny}Z`} fill="#111" />
    </g>
  );
};

const YTitle = ({ viewBox }: any) => {
  const tx = 18.5;
  const ty = viewBox.y + viewBox.height / 2;
  return (
    <text x={tx} y={ty} transform={`rotate(-90 ${tx} ${ty})`} textAnchor="middle" dominantBaseline="central" fontFamily={FONT} fontSize={9.5} fill="#222">
      Mn×100/Fe
    </text>
  );
};

const legendGlyphs = ['+', '×', '▲', '■'];

const LegendBox = () => (
  <div style={{ display: 'flex', alignItems: 'center', height: 20, boxSizing: 'border-box', border: '1px solid #bbb', borderBottom: 'none', padding: '3px 0 0 4px', fontFamily: '"Noto Sans CJK JP"', fontSize: 12, lineHeight: '16px', fontWeight: 700, color: '#333', whiteSpace: 'nowrap' }}>
    {seriesNames.map((name, i) => (
      <span key={name} style={{ marginRight: 5, letterSpacing: i > 1 ? 1 : 0 }}>
        <span style={{ display: 'inline-block', width: 8, textAlign: 'center', fontSize: i < 2 ? 10 : 7, color: i === 3 ? '#111' : '#777', marginRight: 4, verticalAlign: 'middle', lineHeight: '12px', letterSpacing: 0 }}>{legendGlyphs[i]}</span>
        {name}
      </span>
    ))}
  </div>
);

export default function App() {
  const tickStyle = { fontSize: 10.5, fontFamily: FONT, fill: '#111', stroke: '#111', strokeWidth: 0.2 };
  return (
    <div style={{ position: 'absolute', left: 0, top: 0, width: WIDTH, height: HEIGHT, overflow: 'hidden', background: '#fff', filter: 'blur(0.35px)' }}>
      <div style={{ position: 'absolute', left: 7, top: 7, width: 600, height: 800, border: '1px solid #bbb' }} />
      <ScatterChart
        width={WIDTH}
        height={HEIGHT}
        margin={{ top: PLOT_TOP, right: WIDTH - PLOT_RIGHT, left: PLOT_LEFT - 42, bottom: HEIGHT - PLOT_BOTTOM - 40 }}
      >
        <CartesianGrid stroke="#dcdcdc" strokeWidth={1} />
        <XAxis
          type="number"
          dataKey="x"
          domain={[0, 70]}
          ticks={xTicks}
          height={40}
          interval={0}
          tickLine={false}
          axisLine={{ stroke: '#666', strokeWidth: 1.5 }}
          tick={tickStyle}
          tickMargin={10}
          label={{ value: 'Rb×100/(Rb+Sr+Y+Zr)', position: 'insideBottom', offset: 2, fontSize: 9.7, fontFamily: FONT, fill: '#222' }}
        />
        <YAxis
          type="number"
          dataKey="y"
          domain={[0, 20]}
          ticks={yTicks}
          width={42}
          interval={0}
          tickLine={false}
          axisLine={{ stroke: '#666', strokeWidth: 1.5 }}
          tick={tickStyle}
          tickMargin={3}
          label={{ content: (p: any) => <YTitle {...p} /> }}
        />
        <ReferenceLine x={70} stroke="#777" strokeWidth={1.5} />
        <ReferenceLine y={20} stroke="#777" strokeWidth={1.5} />
        <Scatter data={rings} legendType="none" shape={(p: any) => <Ring {...p} />} isAnimationActive={false} />
        <Scatter name={seriesNames[0]} data={chubuRows} shape={(p: any) => <PlusMark {...p} />} isAnimationActive={false} />
        <Scatter name={seriesNames[1]} data={tohokuRows} shape={(p: any) => <CrossMark {...p} />} isAnimationActive={false} />
        <Scatter name={seriesNames[2]} data={hokkaidoRows} shape={(p: any) => <TriangleMark {...p} />} isAnimationActive={false} />
        <Scatter name={seriesNames[3]} data={siteRows} shape={(p: any) => <SquareMark {...p} />} isAnimationActive={false} />
        <Scatter data={areaLabels} legendType="none" shape={(p: any) => <AreaLabel {...p} />} isAnimationActive={false} />
        {arrows.map(([x1, y1, x2, y2], i) => (
          <ReferenceLine
            key={i}
            segment={[{ x: x1, y: y1 }, { x: x2, y: y2 }]}
            shape={(p: any) => <Arrow {...p} />}
          />
        ))}
        <Legend
          layout="horizontal"
          verticalAlign="middle"
          align="center"
          wrapperStyle={{ left: 93, top: 766, width: 444, height: 20 }}
          content={() => <LegendBox />}
        />
      </ScatterChart>
    </div>
  );
}
